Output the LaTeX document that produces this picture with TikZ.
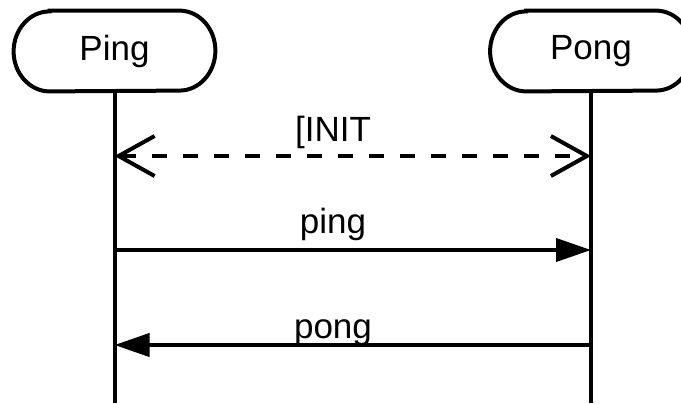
\documentclass[tikz,border=0pt]{standalone}
\usepackage{fontspec}
\setmainfont{Liberation Sans}
\usetikzlibrary{arrows.meta}

\tikzset{
    actor/.style={minimum width=100.5pt, minimum height=40pt, inner sep=0pt, font=\fontsize{17.5}{21}\selectfont},
    lifeline/.style={line width=2pt},
    msg/.style={line width=2pt, -{Triangle[length=17.5pt,width=11.5pt]}},
    initmsg/.style={line width=2pt, dash pattern=on 7.5pt off 8pt, {Straight Barb[length=18pt,width=20pt]}-{Straight Barb[length=18pt,width=20pt]}},
    label/.style={anchor=base, inner sep=0pt, font=\fontsize{17.5}{21}\selectfont},
}

\begin{document}
\begin{tikzpicture}[x=0.5pt,y=-0.5pt]
                \useasboundingbox (0,0) rectangle (681,403);
                % participants
                \node[actor] (ping) at (114.5,51) {Ping};
                \node[actor] (pong) at (591,51) {Pong};
                \foreach \n in {ping,pong}
                    \draw[line width=2pt] ([xshift=18pt]\n.north west) -- ([xshift=-18pt]\n.north east)
                        arc[start angle=90, end angle=-90, x radius=18pt, y radius=20pt]
                        -- ([xshift=18pt]\n.south west)
                        arc[start angle=270, end angle=90, x radius=18pt, y radius=20pt] -- cycle;
                % message rows
                \coordinate (bottom) at (0,403);
                \coordinate (init) at (333,156);
                \coordinate (req) at (333,250);
                \coordinate (rep) at (333,345);
                \draw[lifeline] (ping.south) -- (ping.south |- bottom);
                \draw[lifeline] (pong.south) -- (pong.south |- bottom);
                \draw[initmsg] (ping.south |- init) -- (pong.south |- init);
                \draw[msg] (ping.south |- req) -- (pong.south |- req);
                \draw[msg] (pong.south |- rep) -- (ping.south |- rep);
                \node[label] (initlabel) at (333,141) {[INIT};
                \node[label] (pinglabel) at (333,233) {ping};
                \node[label] (ponglabel) at (333,338) {pong};
            \end{tikzpicture}
\end{document}
